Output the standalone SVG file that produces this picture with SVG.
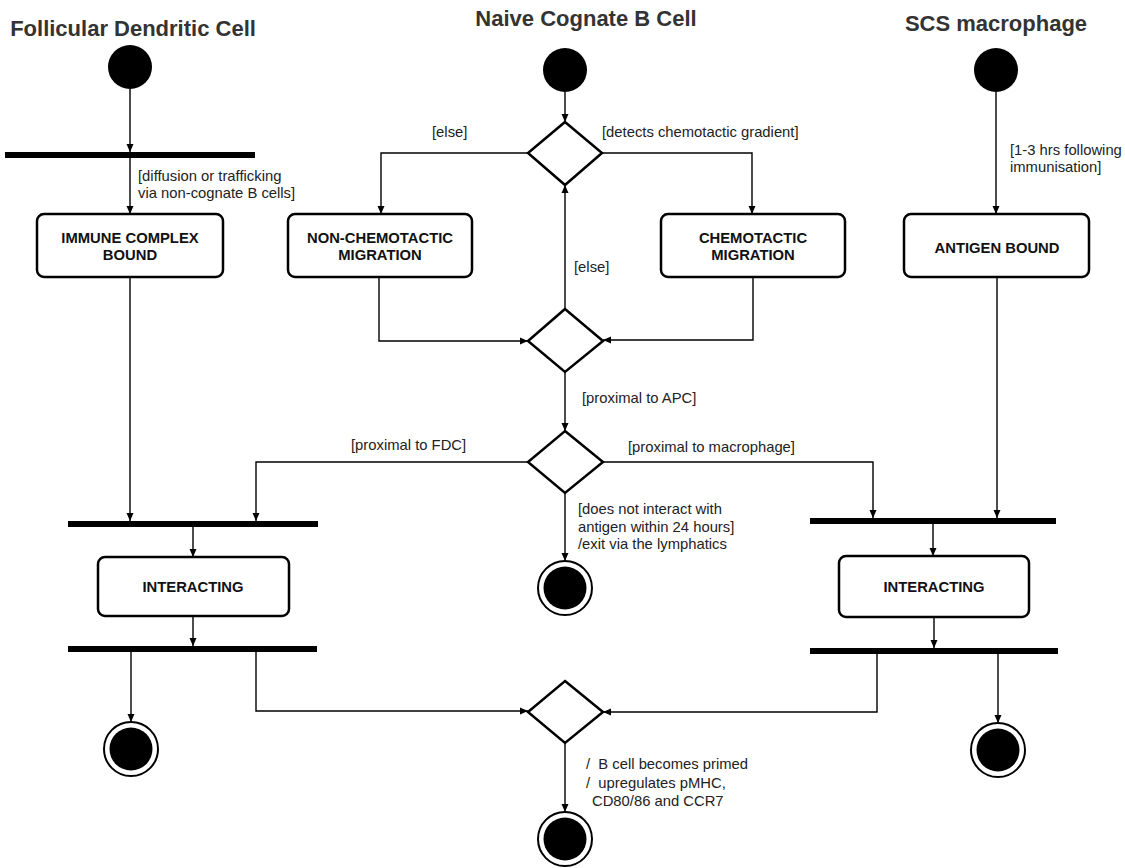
<svg xmlns="http://www.w3.org/2000/svg" width="1125" height="868" viewBox="0 0 1125 868">
<style>
.title{font-family:"Liberation Sans",Arial,sans-serif;font-weight:bold;font-size:22px;fill:#333;text-anchor:middle}
.lbl{font-family:"Liberation Sans",Arial,sans-serif;font-size:14.8px;fill:#222;white-space:pre}
.st{font-family:"Liberation Sans",Arial,sans-serif;font-weight:bold;font-size:14.8px;fill:#111;text-anchor:middle}
.box{fill:#fff;stroke:#000;stroke-width:2.5}
.dia{fill:#fff;stroke:#000;stroke-width:2.5}
.bar{fill:#000}
.start{fill:#000}
.fo{fill:#fff;stroke:#000;stroke-width:2}
.fi{fill:#000}
.edge{fill:none;stroke:#000;stroke-width:1.4;marker-end:url(#arr)}
</style>
<defs>
<marker id="arr" markerUnits="userSpaceOnUse" markerWidth="10" markerHeight="10" viewBox="0 0 10 10" refX="9" refY="5" orient="auto">
<path d="M1,1.5 L9,5 L1,8.5 Z" fill="#000"/>
</marker>
</defs>
<rect width="1125" height="868" fill="#fff"/>

<text class="title" x="133" y="36">Follicular Dendritic Cell</text>
<text class="title" x="586" y="26">Naive Cognate B Cell</text>
<text class="title" x="996" y="31">SCS macrophage</text>

<g id="connectors">
<path class="edge" d="M130,89 L130,152"/>
<path class="edge" d="M130,158 L130,214"/>
<path class="edge" d="M130,277 L130,521"/>
<path class="edge" d="M193,527 L193,557"/>
<path class="edge" d="M193,616 L193,646"/>
<path class="edge" d="M131,652 L131,722"/>
<path class="edge" d="M256,652 L256,711 L528,711"/>
<path class="edge" d="M565,92 L565,122"/>
<path class="edge" d="M528,153 L381,153 L381,214"/>
<path class="edge" d="M602,153 L752,153 L752,214"/>
<path class="edge" d="M379,277 L379,341 L528,341"/>
<path class="edge" d="M753,277 L753,340 L603,340"/>
<path class="edge" d="M565,309 L565,185"/>
<path class="edge" d="M565,372 L565,431"/>
<path class="edge" d="M528,462 L256,462 L256,521"/>
<path class="edge" d="M603,462 L873,462 L873,518"/>
<path class="edge" d="M565,493 L565,561"/>
<path class="edge" d="M996,92 L996,214"/>
<path class="edge" d="M997,277 L997,518"/>
<path class="edge" d="M933,524 L933,556"/>
<path class="edge" d="M934,617 L934,648"/>
<path class="edge" d="M998,654 L998,723"/>
<path class="edge" d="M877,654 L877,712 L603,712"/>
<path class="edge" d="M565,743 L565,812"/>
<text class="lbl" x="138" y="181">[diffusion or trafficking</text>
<text class="lbl" x="138" y="198">via non-cognate B cells]</text>
<text class="lbl" x="432" y="137">[else]</text>
<text class="lbl" x="602" y="137">[detects chemotactic gradient]</text>
<text class="lbl" x="574" y="272">[else]</text>
<text class="lbl" x="1010" y="155">[1-3 hrs following</text>
<text class="lbl" x="1010" y="172">immunisation]</text>
<text class="lbl" x="582" y="403">[proximal to APC]</text>
<text class="lbl" x="351" y="450">[proximal to FDC]</text>
<text class="lbl" x="628" y="452">[proximal to macrophage]</text>
<text class="lbl" x="578" y="514">[does not interact with</text>
<text class="lbl" x="578" y="532">antigen within 24 hours]</text>
<text class="lbl" x="578" y="549">/exit via the lymphatics</text>
<text class="lbl" x="586" y="769">/  B cell becomes primed</text>
<text class="lbl" x="586" y="788">/  upregulates pMHC,</text>
<text class="lbl" x="592" y="806">CD80/86 and CCR7</text>
</g>

<g id="fdc-start"><circle class="start" cx="130" cy="67" r="22"/></g>
<g id="fdc-fork"><rect class="bar" x="5" y="152" width="250" height="6"/></g>
<g id="immune-complex-bound"><rect class="box" x="37" y="214" width="186" height="63" rx="7"/><text class="st" x="130" y="243">IMMUNE COMPLEX</text><text class="st" x="130" y="260">BOUND</text></g>
<g id="fdc-join1"><rect class="bar" x="68" y="521" width="250" height="6"/></g>
<g id="fdc-interacting"><rect class="box" x="98" y="557" width="191" height="59" rx="7"/><text class="st" x="193" y="592">INTERACTING</text></g>
<g id="fdc-join2"><rect class="bar" x="68" y="646" width="249" height="6"/></g>
<g id="fdc-final"><circle class="fo" cx="131" cy="749" r="27"/><circle class="fi" cx="131" cy="749" r="21.5"/></g>

<g id="b-start"><circle class="start" cx="565" cy="70" r="22"/></g>
<g id="decision1"><polygon class="dia" points="565,122 602,153 565,185 528,153"/></g>
<g id="non-chemotactic"><rect class="box" x="288" y="214" width="184" height="63" rx="7"/><text class="st" x="380" y="243">NON-CHEMOTACTIC</text><text class="st" x="380" y="260">MIGRATION</text></g>
<g id="chemotactic"><rect class="box" x="661" y="214" width="184" height="63" rx="7"/><text class="st" x="753" y="243">CHEMOTACTIC</text><text class="st" x="753" y="260">MIGRATION</text></g>
<g id="decision2"><polygon class="dia" points="565,309 603,341 565,372 528,341"/></g>
<g id="decision3"><polygon class="dia" points="565,431 603,462 565,493 528,462"/></g>
<g id="b-exit-final"><circle class="fo" cx="565" cy="588" r="27"/><circle class="fi" cx="565" cy="588" r="21.5"/></g>
<g id="decision4"><polygon class="dia" points="565,681 603,712 565,743 528,712"/></g>
<g id="primed-final"><circle class="fo" cx="565" cy="839" r="27"/><circle class="fi" cx="565" cy="839" r="21.5"/></g>

<g id="scs-start"><circle class="start" cx="996" cy="70" r="22"/></g>
<g id="antigen-bound"><rect class="box" x="904" y="214" width="185" height="63" rx="7"/><text class="st" x="997" y="253">ANTIGEN BOUND</text></g>
<g id="scs-join1"><rect class="bar" x="810" y="518" width="246" height="6"/></g>
<g id="scs-interacting"><rect class="box" x="839" y="556" width="190" height="61" rx="7"/><text class="st" x="934" y="592">INTERACTING</text></g>
<g id="scs-join2"><rect class="bar" x="810" y="648" width="248" height="6"/></g>
<g id="scs-final"><circle class="fo" cx="998" cy="750" r="27"/><circle class="fi" cx="998" cy="750" r="21.5"/></g>
</svg>
